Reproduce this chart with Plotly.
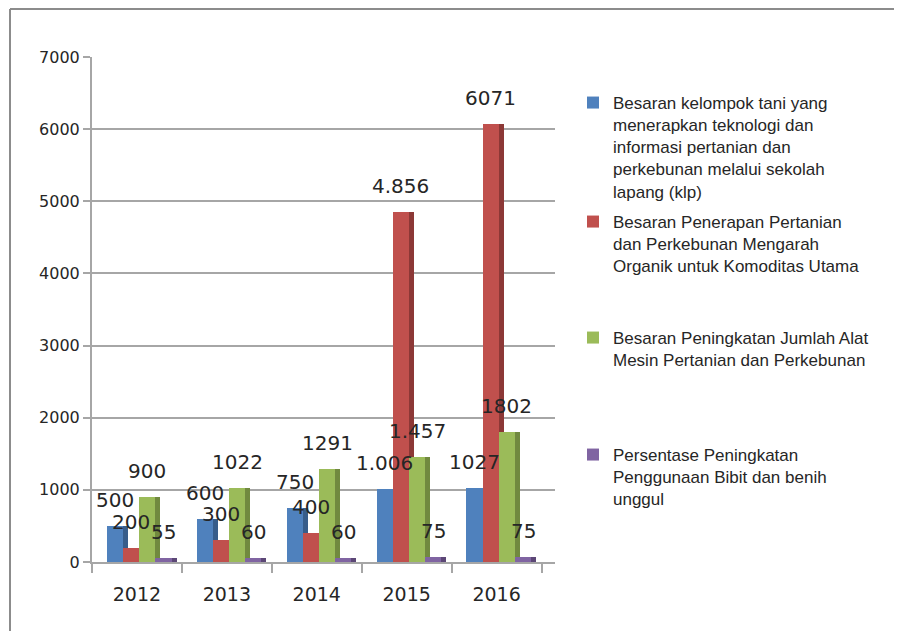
import plotly.graph_objects as go

# data
years = ["2012", "2013", "2014", "2015", "2016"]

kelompok_tani = [500, 600, 750, 1006, 1027]
organik = [200, 300, 400, 4856, 6071]
alsintan = [900, 1022, 1291, 1457, 1802]
bibit = [55, 60, 60, 75, 75]

kelompok_labels = ["500", "600", "750", "1.006", "1027"]
organik_labels = ["200", "300", "400", "4.856", "6071"]
alsintan_labels = ["900", "1022", "1291", "1.457", "1802"]
bibit_labels = ["55", "60", "60", "75", "75"]

series_names = [
    "Besaran kelompok tani yang<br>menerapkan teknologi dan<br>informasi pertanian dan<br>perkebunan melalui sekolah<br>lapang (klp)",
    "Besaran Penerapan Pertanian<br>dan Perkebunan Mengarah<br>Organik untuk Komoditas Utama",
    "Besaran Peningkatan Jumlah Alat<br>Mesin Pertanian dan Perkebunan",
    "Persentase Peningkatan<br>Penggunaan Bibit dan benih<br>unggul",
]

# page body has an 8px margin, so everything is laid out 8px in from the window
PAD = 8
W, H = 902 - PAD, 631 - PAD
L, T = 92 - PAD, 57 - PAD
plot_w, plot_h = 463, 505
R = W - L - plot_w
B = H - T - plot_h

front_colors = ["#4F81BD", "#C0504D", "#9BBB59", "#8064A2"]
side_colors = ["#385D8A", "#8C3836", "#71893F", "#5C4776"]
front_width = 0.18
side_width = 0.055
offsets = [-0.335, -0.155, 0.025, 0.205]
legend_tops = [85 - PAD, 204 - PAD, 320 - PAD, 437 - PAD]

series = [kelompok_tani, organik, alsintan, bibit]
labels = [kelompok_labels, organik_labels, alsintan_labels, bibit_labels]

xpos = list(range(len(years)))

fig = go.Figure()

for i, vals in enumerate(series):
    legend_id = "legend" if i == 0 else f"legend{i + 1}"
    fig.add_trace(go.Bar(
        x=xpos, y=vals, name=series_names[i],
        width=front_width, offset=offsets[i],
        marker=dict(color=front_colors[i], line=dict(width=0)),
        legend=legend_id,
    ))
    # darker strip on the right to fake the 3D side face
    fig.add_trace(go.Bar(
        x=xpos, y=vals, width=side_width, offset=offsets[i] + front_width,
        marker=dict(color=side_colors[i], line=dict(width=0)),
        showlegend=False, hoverinfo="skip",
    ))
    for xi, v, t in zip(xpos, vals, labels[i]):
        fig.add_annotation(
            x=xi + offsets[i] + front_width / 2, y=v, text=t,
            showarrow=False, yanchor="middle", yshift=26,
            font=dict(family="DejaVu Sans", size=20, color="#262626"),
        )

# outer frame (top and left edges only, as in the picture)
def px_x(p):
    return (p - PAD - L) / plot_w

def px_y(p):
    return (H - B - (p - PAD)) / plot_h

fig.add_shape(type="line", xref="paper", yref="paper",
              x0=px_x(10), x1=px_x(910), y0=px_y(9), y1=px_y(9),
              line=dict(color="#8C8C8C", width=2))
fig.add_shape(type="line", xref="paper", yref="paper",
              x0=px_x(10), x1=px_x(10), y0=px_y(9), y1=px_y(640),
              line=dict(color="#8C8C8C", width=2))

layout_legends = {}
for i, top in enumerate(legend_tops):
    key = "legend" if i == 0 else f"legend{i + 1}"
    layout_legends[key] = dict(
        x=(573 - PAD) / W, y=1 - top / H, xref="container", yref="container",
        xanchor="left", yanchor="top", valign="top",
        bgcolor="rgba(0,0,0,0)", itemclick=False,
        font=dict(family="Liberation Sans", size=17, color="#262626"),
    )

fig.update_layout(
    width=W, height=H,
    margin=dict(l=L, r=R, t=T, b=B),
    paper_bgcolor="white", plot_bgcolor="white",
    barmode="overlay", bargap=0,
    **layout_legends,
)

fig.update_xaxes(
    range=[-0.5, 4.65],
    tickmode="array", tickvals=xpos, ticktext=years,
    ticks="", showgrid=False,
    tickfont=dict(family="DejaVu Sans", size=19, color="#262626"),
    showline=True, linecolor="#A6A6A6", linewidth=2,
    minor=dict(tickmode="array", tickvals=[x - 0.5 for x in range(len(years) + 1)],
               ticks="outside", ticklen=9, tickcolor="#A6A6A6", tickwidth=2),
    ticklabelstandoff=14,
)
fig.update_yaxes(
    range=[0, 7000], dtick=1000,
    showgrid=True, gridcolor="#A6A6A6", gridwidth=1.5,
    zeroline=False,
    showline=True, linecolor="#A6A6A6", linewidth=2,
    ticks="outside", ticklen=7, tickcolor="#A6A6A6", tickwidth=2,
    tickfont=dict(family="DejaVu Sans", size=16, color="#262626"),
)

fig.write_html("out.html")
